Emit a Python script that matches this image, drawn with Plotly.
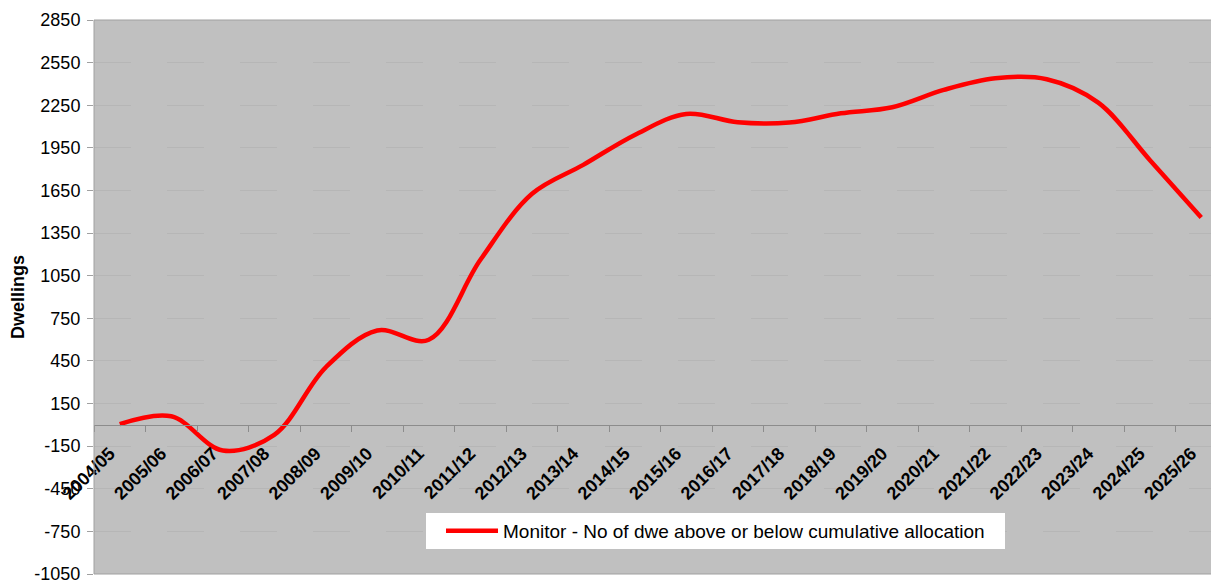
import plotly.graph_objects as go

# ---- data ----
periods = ["2004/05", "2005/06", "2006/07", "2007/08", "2008/09", "2009/10",
           "2010/11", "2011/12", "2012/13", "2013/14", "2014/15", "2015/16",
           "2016/17", "2017/18", "2018/19", "2019/20", "2020/21", "2021/22",
           "2022/23", "2023/24", "2024/25", "2025/26"]
monitor = [5, 60, -180, -70, 405, 664, 599, 1160, 1625, 1830, 2041, 2189,
           2130, 2128, 2193, 2236, 2358, 2440, 2433, 2268, 1865, 1460]
series_name = "Monitor - No of dwe above or below cumulative allocation"
y_tick_values = [-1050, -750, -450, -150, 150, 450, 750, 1050, 1350, 1650,
                 1950, 2250, 2550, 2850]

Y_MIN, Y_MAX = y_tick_values[0], y_tick_values[-1]

# the page body has an 8px margin; the figure keeps the window size,
# so margins are shifted to put the plot area where the reference has it
BODY = 8
W, H = 1219, 583
PLOT_L, PLOT_R, PLOT_T, PLOT_B = 94, 1219, 20, 574   # plot area in window px
ML = PLOT_L - BODY
MT = PLOT_T - BODY
MR = W - (PLOT_R - BODY)
MB = H - (PLOT_B - BODY)
plot_w = PLOT_R - PLOT_L
plot_h = PLOT_B - PLOT_T
cat_px = 51.5  # pixel width of one category in the reference


def px_x(p):
    return (p - PLOT_L) / plot_w


def px_y(p):
    return (PLOT_B - p) / plot_h


FONT = "Liberation Sans, Arial, sans-serif"

fig = go.Figure()
fig.add_trace(go.Scatter(
    x=periods, y=monitor, mode="lines", name=series_name,
    line=dict(color="#ff0000", width=4.5, shape="spline", smoothing=1.0),
    showlegend=True,
))

fig.update_layout(
    width=W, height=H,
    margin=dict(l=ML, r=MR, t=MT, b=MB, pad=0),
    paper_bgcolor="white",
    plot_bgcolor="#c0c0c0",
    font=dict(family=FONT, color="black", size=18),
    showlegend=True,
    legend=dict(
        x=px_x(441), y=px_y(531), xanchor="left", yanchor="middle",
        bgcolor="rgba(0,0,0,0)", borderwidth=0,
        itemwidth=52,
        font=dict(family=FONT, size=19, color="black"),
    ),
    xaxis=dict(
        type="category",
        range=[-0.5, -0.5 + plot_w / cat_px],
        anchor="free",
        position=(0 - Y_MIN) / (Y_MAX - Y_MIN),
        tickson="boundaries",
        showgrid=False,
        showline=True, linecolor="#8c8c8c", linewidth=1,
        ticks="outside", ticklen=6, tickcolor="#8c8c8c", tickwidth=1,
        tickangle=-45,
        ticklabelstandoff=10,
        ticklabelshift=-10,
        tickfont=dict(family=FONT, size=18, color="black", weight="bold"),
        zeroline=False,
        fixedrange=True,
    ),
    yaxis=dict(
        range=[Y_MIN, Y_MAX],
        tickmode="array", tickvals=y_tick_values,
        ticktext=[str(v) for v in y_tick_values],
        ticks="outside", ticklen=6, tickcolor="#a0a0a0",
        ticklabelstandoff=3,
        showgrid=True, gridcolor="#b6b6b6", gridwidth=1, griddash="37px,36px",
        zeroline=False,
        showline=False,
        tickfont=dict(family=FONT, size=18, color="black"),
        title=dict(text="Dwellings", standoff=13,
                   font=dict(family=FONT, size=18, color="black", weight="bold")),
        automargin=False,
        fixedrange=True,
    ),
    shapes=[
        dict(type="rect", xref="paper", yref="paper", x0=0, x1=1, y0=0, y1=1,
             line=dict(color="#a0a0a0", width=1), fillcolor="rgba(0,0,0,0)",
             layer="above"),
        dict(type="rect", xref="paper", yref="paper",
             x0=px_x(426), x1=px_x(1005), y0=px_y(549), y1=px_y(513),
             line=dict(width=0), fillcolor="white", layer="above"),
    ],
)

fig.write_html("out.html")
